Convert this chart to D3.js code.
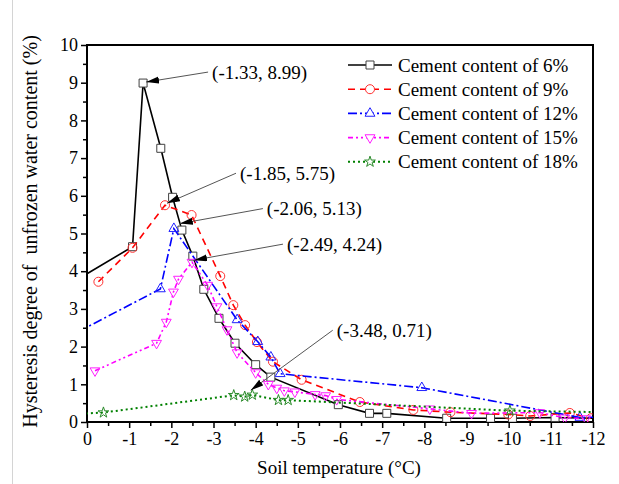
<!DOCTYPE html>
<html>
<head>
<meta charset="utf-8">
<script src="https://cdn.jsdelivr.net/npm/d3@7/dist/d3.min.js"></script>
<style>
body { margin: 0; background: #fff; }
text { font-family: "Liberation Serif", "Times New Roman", serif; }
</style>
</head>
<body>
<div id="chart"></div>
<script>
// data: soil temperature (°C) vs hysteresis degree (%)
const seriesNames = ["Cement content of 6%", "Cement content of 9%", "Cement content of 12%",
    "Cement content of 15%", "Cement content of 18%"];

const temp6 = [0.2, -1.08, -1.33, -1.75, -2.03, -2.25, -2.51, -2.77, -3.13, -3.51, -4.0, -4.36,
    -5.96, -6.7, -7.11, -8.53, -9.57, -10.09, -11.1, -12.3];
const hyst6 = [3.8, 4.65, 8.99, 7.26, 5.96, 5.09, 4.4, 3.52, 2.75, 2.09, 1.52, 1.19,
    0.46, 0.23, 0.23, 0.1, 0.1, 0.1, 0.12, 0.09];

const temp9 = [-0.27, -1.08, -1.85, -2.48, -3.16, -3.47, -3.75, -4.03, -4.41, -5.09, -6.47, -7.74,
    -8.62, -9.99, -10.51, -11.45, -11.95];
const hyst9 = [3.72, 4.62, 5.75, 5.49, 3.87, 3.1, 2.57, 2.12, 1.6, 1.12, 0.53, 0.32,
    0.26, 0.2, 0.16, 0.24, 0.1];

const temp12 = [0.2, -1.74, -2.06, -3.56, -4.05, -4.36, -4.58, -7.94, -11.69, -12.3];
const hyst12 = [2.4, 3.53, 5.13, 2.71, 2.13, 1.72, 1.28, 0.91, 0.12, 0.13];

const temp15 = [-0.19, -1.65, -1.88, -2.05, -2.17, -2.49, -2.86, -3.08, -3.32, -3.56, -4.0, -4.3,
    -4.5, -4.68, -4.93, -5.41, -5.66, -5.92, -8.13, -9.12, -10.74, -11.33, -11.83];
const hyst15 = [1.36, 2.09, 2.65, 3.45, 3.79, 4.24, 3.63, 3.06, 2.45, 1.84, 1.31, 1.0,
    0.9, 0.83, 0.8, 0.73, 0.7, 0.6, 0.35, 0.23, 0.25, 0.11, 0.09];

const temp18 = [0.5, -0.39, -3.48, -3.74, -3.92, -4.54, -4.77, -10.03, -12.3];
const hyst18 = [0.2, 0.25, 0.71, 0.67, 0.72, 0.58, 0.58, 0.3, 0.26];

// labelled peaks
const peakTemp = [-1.33, -1.85, -2.06, -2.49, -3.48];
const peakHyst = [8.99, 5.75, 5.13, 4.24, 0.71];

const xTicks = d3.range(0, -12.5, -1);
const yTicks = d3.range(0, 10.5, 1);

// ---- layout / styles ----
const width = 619, height = 484;
const margin = {left: 87, right: 26, top: 45, bottom: 62};
const plotW = width - margin.left - margin.right;
const plotH = height - margin.top - margin.bottom;

const styles = [
    {color: "#000000", dash: null, symbol: d3.symbolSquare, size: 64, rot: 0, stroke: "#404040", fill: "#fff"},
    {color: "#ff0000", dash: "7,5", symbol: d3.symbolCircle, size: 64, rot: 0, stroke: "#ff3030", fill: "none"},
    {color: "#0000ff", dash: "9,3,2,3", symbol: d3.symbolTriangle, size: 42, rot: 0, stroke: "#2020ff", fill: "none"},
    {color: "#ff00ff", dash: "5,3,2,3,2,3", symbol: d3.symbolTriangle, size: 42, rot: 180, stroke: "#ff20ff", fill: "none"},
    {color: "#008000", dash: "2,3", symbol: d3.symbolStar, size: 36, rot: 0, stroke: "#2a8a2a", fill: "none"}
];

// label offsets (px from the peak) and arrow tip offsets
const labelOffsets = [[69, -11], [75, -32], [93, -20], [95, -18], [103, -65]];
const tipOffsets = [[3, -1], [2, -2], [6, -5], [2, -2], [17, -5]];

const series = [
    {t: temp6, h: hyst6}, {t: temp9, h: hyst9}, {t: temp12, h: hyst12},
    {t: temp15, h: hyst15}, {t: temp18, h: hyst18}
];

const svg = d3.select("#chart").append("svg")
    .attr("width", width)
    .attr("height", height);

// faint page border from the screenshot
svg.append("line").attr("x1", 12.5).attr("x2", 12.5).attr("y1", 0).attr("y2", height)
    .attr("stroke", "#d4d4d4");

const g = svg.append("g").attr("transform", `translate(${margin.left},${margin.top})`);

const x = d3.scaleLinear().domain([0, -12]).range([0, plotW]);
const y = d3.scaleLinear().domain([0, 10]).range([plotH, 0]);

g.append("defs").append("clipPath").attr("id", "clip")
    .append("rect").attr("width", plotW).attr("height", plotH);

svg.append("defs").append("marker")
    .attr("id", "arrow")
    .attr("markerUnits", "userSpaceOnUse")
    .attr("markerWidth", 14).attr("markerHeight", 8)
    .attr("refX", 13).attr("refY", 3.5)
    .attr("orient", "auto")
    .append("path").attr("d", "M13,3.5 L0,0 L0,7 Z").attr("fill", "#000");

// axes
g.append("g").attr("transform", `translate(0,${plotH})`)
    .call(d3.axisBottom(x).tickValues(xTicks).tickSize(6).tickPadding(4).tickFormat(d => String(d)));
g.append("g").attr("transform", `translate(0,${plotH})`)
    .call(d3.axisBottom(x).tickValues(d3.range(-0.5, -12, -1)).tickSize(4).tickFormat(""));
g.append("g")
    .call(d3.axisLeft(y).tickValues(yTicks).tickSize(6).tickPadding(3).tickFormat(d => String(d)));
g.append("g")
    .call(d3.axisLeft(y).tickValues(d3.range(0.5, 10, 1)).tickSize(4).tickFormat(""));

g.selectAll(".domain").remove();
g.selectAll(".tick line").attr("stroke", "#000").attr("stroke-width", 1.5);
g.selectAll(".tick text").attr("font-size", 18).attr("fill", "#000")
    .attr("font-family", "Liberation Serif, serif");

g.append("rect").attr("width", plotW).attr("height", plotH)
    .attr("fill", "none").attr("stroke", "#000").attr("stroke-width", 2);

// series
const plot = g.append("g").attr("clip-path", "url(#clip)");
const line = d3.line().x(d => x(d[0])).y(d => y(d[1]));

series.forEach((s, i) => {
    const st = styles[i];
    const pts = s.t.map((t, k) => [t, s.h[k]]);
    plot.append("path")
        .datum(pts)
        .attr("fill", "none")
        .attr("stroke", st.color)
        .attr("stroke-width", i === 4 ? 2 : 1.6)
        .attr("stroke-dasharray", st.dash)
        .attr("d", line);
    plot.selectAll(null)
        .data(pts)
        .enter().append("path")
        .attr("d", d3.symbol().type(st.symbol).size(st.size))
        .attr("transform", d => `translate(${x(d[0])},${y(d[1])}) rotate(${st.rot})`)
        .attr("fill", st.fill)
        .attr("stroke", st.stroke)
        .attr("stroke-width", 1);
});

// annotations
peakTemp.forEach((t, i) => {
    const px = x(t), py = y(peakHyst[i]);
    const lx = px + labelOffsets[i][0], ly = py + labelOffsets[i][1];
    const tx = px + tipOffsets[i][0], ty = py + tipOffsets[i][1];
    g.append("line")
        .attr("x1", lx - 4).attr("y1", ly)
        .attr("x2", tx).attr("y2", ty)
        .attr("stroke", "#555")
        .attr("stroke-width", 1)
        .attr("marker-end", "url(#arrow)");
    g.append("text")
        .attr("x", lx).attr("y", ly)
        .attr("dy", "0.35em")
        .attr("font-size", 19)
        .text(`(${t.toFixed(2)}, ${peakHyst[i].toFixed(2)})`);
});

// legend
const legend = g.append("g").attr("transform", "translate(261,20)");
seriesNames.forEach((name, i) => {
    const st = styles[i];
    const row = legend.append("g").attr("transform", `translate(0,${i * 24.2})`);
    row.append("line").attr("x1", 0).attr("x2", 44)
        .attr("stroke", st.color).attr("stroke-width", i === 4 ? 2 : 1.6)
        .attr("stroke-dasharray", st.dash);
    row.append("path")
        .attr("d", d3.symbol().type(st.symbol).size(st.size))
        .attr("transform", `translate(22,0) rotate(${st.rot})`)
        .attr("fill", "#fff")
        .attr("stroke", st.stroke);
    row.append("text").attr("x", 50).attr("dy", "0.35em")
        .attr("font-size", 19).text(name);
});

// axis titles
svg.append("text")
    .attr("x", margin.left + plotW / 2 - 1).attr("y", 474)
    .attr("text-anchor", "middle")
    .attr("font-size", 19)
    .text("Soil temperature (°C)");

svg.append("text")
    .attr("transform", `translate(37,${margin.top + plotH / 2 - 2}) rotate(-90)`)
    .attr("text-anchor", "middle")
    .attr("font-size", 20)
    .style("white-space", "pre")
    .text("Hysteresis degree of  unfrozen water content (%)");
</script>
</body>
</html>
